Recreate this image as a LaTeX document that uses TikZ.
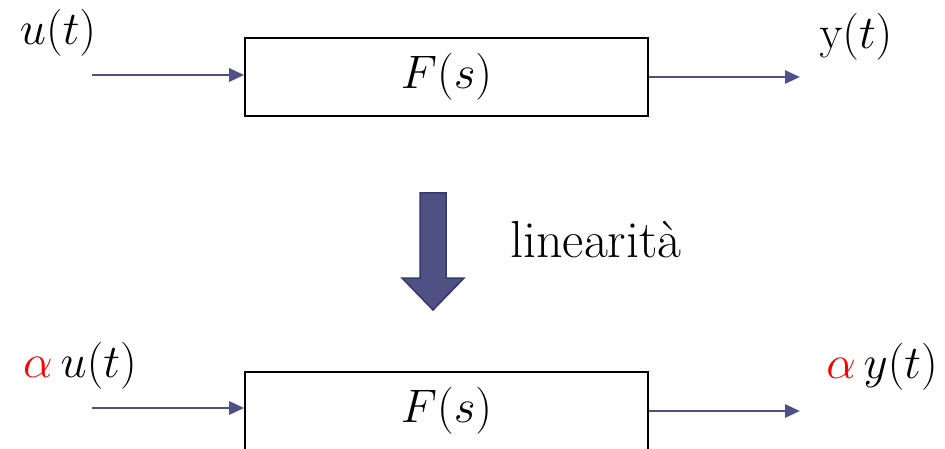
\RequirePackage{fix-cm}
\documentclass[tikz,border=0pt]{standalone}
\usepackage{amsmath}
\usepackage{tikz}
\usetikzlibrary{arrows.meta, positioning}

\definecolor{sigblue}{HTML}{505088}
\definecolor{bigfill}{HTML}{4F5185}
\definecolor{bigedge}{HTML}{363A6A}

\begin{document}
\begin{tikzpicture}[x=1pt, y=-1pt,
		blockbox/.style={draw, line width=1.6pt, minimum width=403pt, minimum height=78pt,
			inner sep=0pt, font=\fontsize{47}{54}\selectfont},
		sig/.style={draw=sigblue, line width=2.8pt, -{Triangle[length=15pt, width=13pt]}},
		lbl/.style={inner sep=0pt, font=\fontsize{47}{54}\selectfont}]
		\clip (0,0) rectangle (945,449);
		% upper system
		\node[blockbox] (sysa) at (446.5,77) {$F(s)$};
		\node[lbl] (ua) at (58,33) {$u(t)$};
		\node[lbl] (ya) at (856,37) {$\mathrm{y}(t)$};
		\coordinate (ina) at (92,75);
		\coordinate (outa) at (800,77);
		\draw[sig] (ina) -- (ina -| sysa.west);
		\draw[sig] (outa -| sysa.east) -- (outa);
		% big arrow
		\filldraw[fill=bigfill, draw=bigedge, line width=1.5pt]
			(420,193) -- (446,193) -- (446,278) -- (464,278) -- (433,310)
			-- (402,278) -- (420,278) -- cycle;
		\node[lbl, font=\fontsize{52}{58}\selectfont] (lin) at (596,240) {linearità};
		% lower system
		\node[blockbox] (sysb) at (446.5,411) {$F(s)$};
		\node[lbl] (ub) at (80,366) {$\textcolor{red}{\alpha}\,u(t)$};
		\node[lbl] (yb) at (882,367) {$\textcolor{red}{\alpha}\,y(t)$};
		\coordinate (inb) at (92,408);
		\coordinate (outb) at (800,411);
		\draw[sig] (inb) -- (inb -| sysb.west);
		\draw[sig] (outb -| sysb.east) -- (outb);
\end{tikzpicture}
\end{document}
